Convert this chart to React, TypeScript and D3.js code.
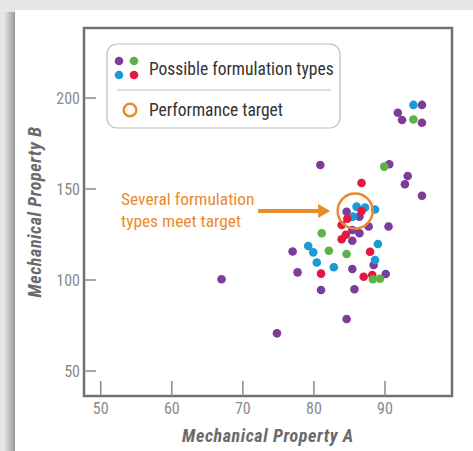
import { useEffect, useRef } from "react";
import * as d3 from "d3";

// Scatter points, per formulation type: [Property A, Property B]
const purplePoints: [number, number][] = [
  [95.2, 196.2], [91.8, 191.9], [92.4, 187.9], [95.2, 186.4], [80.9, 163.2],
  [90.6, 163.6], [93.2, 157.1], [92.8, 152.6], [95.2, 146.3], [84.6, 137.5],
  [86.4, 134.8], [87.7, 129.4], [90.5, 129.4], [85.4, 127.5], [86.4, 125.7],
  [85.4, 121.6], [77.0, 115.7], [88.4, 108.2], [85.4, 106.0], [67.0, 100.4],
  [77.7, 104.2], [90.1, 103.3], [81.0, 94.5], [85.7, 94.9], [84.6, 78.6],
  [74.8, 70.7],
];
const bluePoints: [number, number][] = [
  [94.0, 196.2], [86.0, 140.3], [87.2, 139.8], [88.6, 138.7], [85.5, 134.8],
  [89.0, 119.8], [79.2, 118.7], [79.9, 115.2], [88.6, 111.0], [80.4, 109.6],
  [82.8, 107.0],
];
const redPoints: [number, number][] = [
  [86.7, 153.3], [86.7, 137.9], [84.7, 133.7], [83.9, 130.2], [84.5, 124.9],
  [83.9, 122.4], [87.9, 115.5], [81.0, 103.5], [87.0, 101.8], [88.2, 102.7],
];
const greenPoints: [number, number][] = [
  [94.0, 188.2], [89.9, 162.3], [81.1, 125.7], [82.1, 116.1], [84.6, 114.3],
  [88.3, 100.4], [89.3, 100.7],
];

const xTicks = [50, 60, 70, 80, 90];
const yTicks = [50, 100, 150, 200];
const target: [number, number] = [85.8, 137.9];

const legendLabels = ["Possible formulation types", "Performance target"];
const annotationLines = ["Several formulation", "types meet target"];

const FONT = "'Liberation Sans Narrow', 'Roboto Condensed', 'Roboto', sans-serif";
const ORANGE = "#ea8a2e";

export default function App() {
  const ref = useRef<SVGSVGElement>(null);

  useEffect(() => {
    document.body.style.margin = "0";
    if (!ref.current) return;
    const svg = d3.select(ref.current);
    svg.selectAll("*").remove();

    const width = 473;
    const height = 451;
    const frame = { left: 84, top: 28, right: 452, bottom: 396 };

    // background + card with left shadow
    svg.append("rect").attr("width", width).attr("height", height).attr("fill", "#e6e6e6");
    const defs = svg.append("defs");
    const grad = defs.append("linearGradient").attr("id", "shadow").attr("x1", 0).attr("x2", 1);
    grad.append("stop").attr("offset", 0).attr("stop-color", "#e6e6e6");
    grad.append("stop").attr("offset", 1).attr("stop-color", "#9a9a9a");
    svg.append("rect").attr("x", 4).attr("y", 12).attr("width", 11).attr("height", height)
      .attr("fill", "url(#shadow)");
    svg.append("rect").attr("x", 15).attr("y", 10).attr("width", width).attr("height", height)
      .attr("fill", "#ffffff");

    const x = d3.scaleLinear().domain([50, 90]).range([100.7, 385]);
    const y = d3.scaleLinear().domain([50, 200]).range([371, 98]);

    // frame
    svg.append("rect")
      .attr("x", frame.left).attr("y", frame.top)
      .attr("width", frame.right - frame.left).attr("height", frame.bottom - frame.top)
      .attr("fill", "none").attr("stroke", "#6f6f6f").attr("stroke-width", 2.5);

    // x ticks (inward)
    const gx = svg.append("g");
    xTicks.forEach(t => {
      gx.append("line").attr("x1", x(t)).attr("x2", x(t))
        .attr("y1", frame.bottom).attr("y2", frame.bottom - 15)
        .attr("stroke", "#8a8a8a").attr("stroke-width", 1.5);
      gx.append("text").attr("x", x(t)).attr("y", frame.bottom + 18)
        .attr("text-anchor", "middle").attr("font-family", FONT).attr("font-size", 16)
        .attr("fill", "#8a8a8a").text(t);
    });

    // y ticks (inward)
    const gy = svg.append("g");
    yTicks.forEach(t => {
      gy.append("line").attr("x1", frame.left).attr("x2", frame.left + 12)
        .attr("y1", y(t)).attr("y2", y(t))
        .attr("stroke", "#8a8a8a").attr("stroke-width", 1.5);
      gy.append("text").attr("x", frame.left - 4).attr("y", y(t)).attr("dy", "0.35em")
        .attr("text-anchor", "end").attr("font-family", FONT).attr("font-size", 16)
        .attr("fill", "#8a8a8a").text(t);
    });

    // axis titles
    svg.append("text").attr("x", (frame.left + frame.right) / 2).attr("y", 442)
      .attr("text-anchor", "middle").attr("font-family", FONT).attr("font-size", 18)
      .attr("letter-spacing", 0.6)
      .attr("font-weight", "bold").attr("font-style", "italic").attr("fill", "#6a6a6a")
      .text("Mechanical Property A");
    svg.append("text")
      .attr("transform", `translate(41,${(frame.top + frame.bottom) / 2}) rotate(-90)`)
      .attr("text-anchor", "middle").attr("font-family", FONT).attr("font-size", 18)
      .attr("letter-spacing", 0.6)
      .attr("font-weight", "bold").attr("font-style", "italic").attr("fill", "#6a6a6a")
      .text("Mechanical Property B");

    // points
    const series = [
      { data: purplePoints, color: "#7d3c98" },
      { data: bluePoints, color: "#1b9ad6" },
      { data: redPoints, color: "#e5173f" },
      { data: greenPoints, color: "#5cb246" },
    ];
    const gp = svg.append("g");
    series.forEach(s => {
      gp.selectAll(null).data(s.data).enter().append("circle")
        .attr("cx", d => x(d[0])).attr("cy", d => y(d[1])).attr("r", 4.3)
        .attr("fill", s.color);
    });

    // target circle
    const tx = x(target[0]);
    const ty = y(target[1]);
    svg.append("circle").attr("cx", tx).attr("cy", ty).attr("r", 17.5)
      .attr("fill", "none").attr("stroke", ORANGE).attr("stroke-width", 2.5);

    // annotation arrow
    const arrowEnd = tx - 25;
    svg.append("line").attr("x1", arrowEnd - 72).attr("x2", arrowEnd - 8)
      .attr("y1", ty).attr("y2", ty).attr("stroke", ORANGE).attr("stroke-width", 4);
    svg.append("path")
      .attr("d", `M${arrowEnd},${ty} L${arrowEnd - 12},${ty - 7} L${arrowEnd - 12},${ty + 7} Z`)
      .attr("fill", ORANGE);
    annotationLines.forEach((line, i) => {
      svg.append("text").attr("x", 121).attr("y", 205 + i * 22)
        .attr("font-family", FONT).attr("font-size", 17.4).attr("fill", ORANGE).text(line);
    });

    // legend
    const lg = svg.append("g");
    lg.append("rect").attr("x", 107).attr("y", 44).attr("width", 233).attr("height", 84)
      .attr("rx", 10).attr("fill", "#ffffff").attr("stroke", "#bdbdbd").attr("stroke-width", 1.2);
    lg.append("line").attr("x1", 117).attr("x2", 331).attr("y1", 90).attr("y2", 90)
      .attr("stroke", "#bdbdbd").attr("stroke-width", 1.2);
    const swatch = [
      { dx: 0, dy: 0, color: "#7d3c98" },
      { dx: 15, dy: 0, color: "#5cb246" },
      { dx: 0, dy: 14, color: "#1b9ad6" },
      { dx: 15, dy: 14, color: "#e5173f" },
    ];
    swatch.forEach(s => {
      lg.append("circle").attr("cx", 119 + s.dx).attr("cy", 61 + s.dy).attr("r", 4.3)
        .attr("fill", s.color);
    });
    lg.append("circle").attr("cx", 130).attr("cy", 110).attr("r", 6.3)
      .attr("fill", "none").attr("stroke", ORANGE).attr("stroke-width", 2.5);
    legendLabels.forEach((label, i) => {
      lg.append("text").attr("x", 149).attr("y", i === 0 ? 69 : 110).attr("dy", "0.35em")
        .attr("font-family", FONT).attr("font-size", 17.5).attr("fill", "#333333").text(label);
    });
  }, []);

  return <svg ref={ref} width={473} height={451} style={{ display: "block" }} />;
}
